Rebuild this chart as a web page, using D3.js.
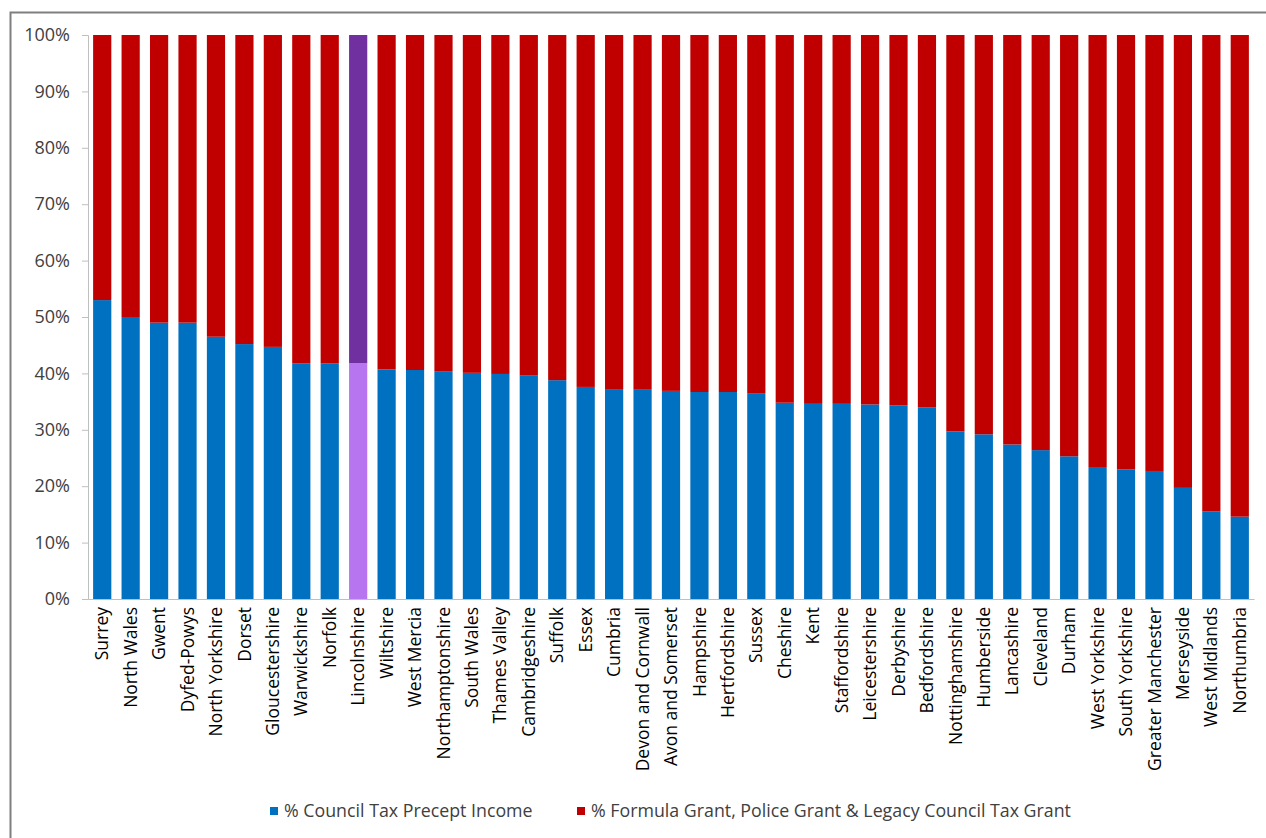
<!DOCTYPE html>
<html>
<head>
<meta charset="utf-8">
<script src="https://cdn.jsdelivr.net/npm/d3@7"></script>
<style>
body { margin: 0; background: #fff; }
text { font-family: "Open Sans", "Noto Sans", sans-serif; }
</style>
</head>
<body>
<div id="chart-area"></div>
<script>
// police force areas, sorted by share of council tax precept
var forces = ["Surrey", "North Wales", "Gwent", "Dyfed-Powys", "North Yorkshire", "Dorset",
	"Gloucestershire", "Warwickshire", "Norfolk", "Lincolnshire", "Wiltshire", "West Mercia",
	"Northamptonshire", "South Wales", "Thames Valley", "Cambridgeshire", "Suffolk", "Essex",
	"Cumbria", "Devon and Cornwall", "Avon and Somerset", "Hampshire", "Hertfordshire", "Sussex",
	"Cheshire", "Kent", "Staffordshire", "Leicestershire", "Derbyshire", "Bedfordshire",
	"Nottinghamshire", "Humberside", "Lancashire", "Cleveland", "Durham", "West Yorkshire",
	"South Yorkshire", "Greater Manchester", "Merseyside", "West Midlands", "Northumbria"];
var councilTax = [53.0, 50.0, 49.0, 49.0, 46.5, 45.2, 44.7, 41.8, 41.8, 41.8, 40.7, 40.6,
	40.4, 40.1, 39.9, 39.6, 38.8, 37.6, 37.1, 37.1, 36.9, 36.7, 36.7, 36.5,
	34.8, 34.6, 34.6, 34.5, 34.3, 34.0, 29.7, 29.2, 27.4, 26.4, 25.3, 23.4,
	23.0, 22.7, 19.7, 15.5, 14.6];
var grants = [47.0, 50.0, 51.0, 51.0, 53.5, 54.8, 55.3, 58.2, 58.2, 58.2, 59.3, 59.4,
	59.6, 59.9, 60.1, 60.4, 61.2, 62.4, 62.9, 62.9, 63.1, 63.3, 63.3, 63.5,
	65.2, 65.4, 65.4, 65.5, 65.7, 66.0, 70.3, 70.8, 72.6, 73.6, 74.7, 76.6,
	77.0, 77.3, 80.3, 84.5, 85.4];
var seriesNames = ["% Council Tax Precept Income", "% Formula Grant, Police Grant & Legacy Council Tax Grant"];
var yTicks = [0, 0.1, 0.2, 0.3, 0.4, 0.5, 0.6, 0.7, 0.8, 0.9, 1];
var highlight = "Lincolnshire";

var colors = ["#0070C0", "#C00000"];
var highlightColors = ["#B775F0", "#7030A0"];

var W = 1266, H = 838;
var margin = {top: 35, right: 12, bottom: 239, left: 88};
var width = 1254 - margin.left;
var height = 599 - margin.top;

var svg = d3.select("#chart-area")
	.append("svg")
	.attr("width", W)
	.attr("height", H);

// outer frame (runs off the right and bottom of the picture)
svg.append("rect")
	.attr("x", 10.5).attr("y", 12.5)
	.attr("width", W).attr("height", H)
	.attr("fill", "none")
	.attr("stroke", "#7f7f7f")
	.attr("stroke-width", 2);

var g = svg.append("g")
	.attr("transform", "translate(" + margin.left + ", " + margin.top + ")");

var data = forces.map((f, i) => { return {name: f, ct: councilTax[i], gr: grants[i]}; });

var stack = d3.stack().keys(["ct", "gr"]).offset(d3.stackOffsetExpand);
var layers = stack(data);

var x = d3.scaleBand()
	.domain(forces)
	.range([0, width])
	.paddingInner(0.36)
	.paddingOuter(0.18);

var y = d3.scaleLinear()
	.domain([0, 1])
	.range([height, 0]);

g.selectAll("g.layer").data(layers)
	.enter()
	.append("g")
	.attr("class", "layer")
	.each(function(layer, li) {
		d3.select(this).selectAll("rect").data(layer)
			.enter()
			.append("rect")
			.attr("x", (d) => { return x(d.data.name); })
			.attr("y", (d) => { return y(d[1]); })
			.attr("height", (d) => { return y(d[0]) - y(d[1]); })
			.attr("width", x.bandwidth())
			.attr("fill", (d) => { return d.data.name === highlight ? highlightColors[li] : colors[li]; });
	});

var leftAxis = d3.axisLeft(y).tickValues(yTicks).tickFormat(d3.format(".0%")).tickSize(6).tickPadding(12);
var yAxis = g.append("g")
	.attr("class", "y axis")
	.call(leftAxis);
yAxis.select(".domain").attr("stroke", "#bfbfbf");
yAxis.selectAll(".tick line").attr("stroke", "#bfbfbf");
yAxis.selectAll("text")
	.attr("font-size", "18px")
	.attr("fill", "#404040");

var bottomAxis = d3.axisBottom(x).tickSize(0).tickPadding(8);
var xAxis = g.append("g")
	.attr("class", "x axis")
	.attr("transform", "translate(0, " + height + ")")
	.call(bottomAxis);
xAxis.select(".domain").attr("stroke", "#bfbfbf");
xAxis.selectAll("text")
	.attr("transform", "rotate(-90)")
	.attr("x", -8).attr("y", 0).attr("dy", "0.35em")
	.attr("text-anchor", "end")
	.attr("font-size", "17.5px")
	.attr("fill", "#000");

// legend
var legendX = [270, 577];
var legend = svg.append("g").attr("class", "legend");
seriesNames.forEach((s, i) => {
	legend.append("rect")
		.attr("x", legendX[i]).attr("y", 807)
		.attr("width", 8).attr("height", 8)
		.attr("fill", colors[i]);
	legend.append("text")
		.attr("x", legendX[i] + 14).attr("y", 811)
		.attr("dy", "0.35em")
		.attr("font-size", "17.8px")
		.attr("fill", "#404040")
		.text(s);
});
</script>
</body>
</html>
